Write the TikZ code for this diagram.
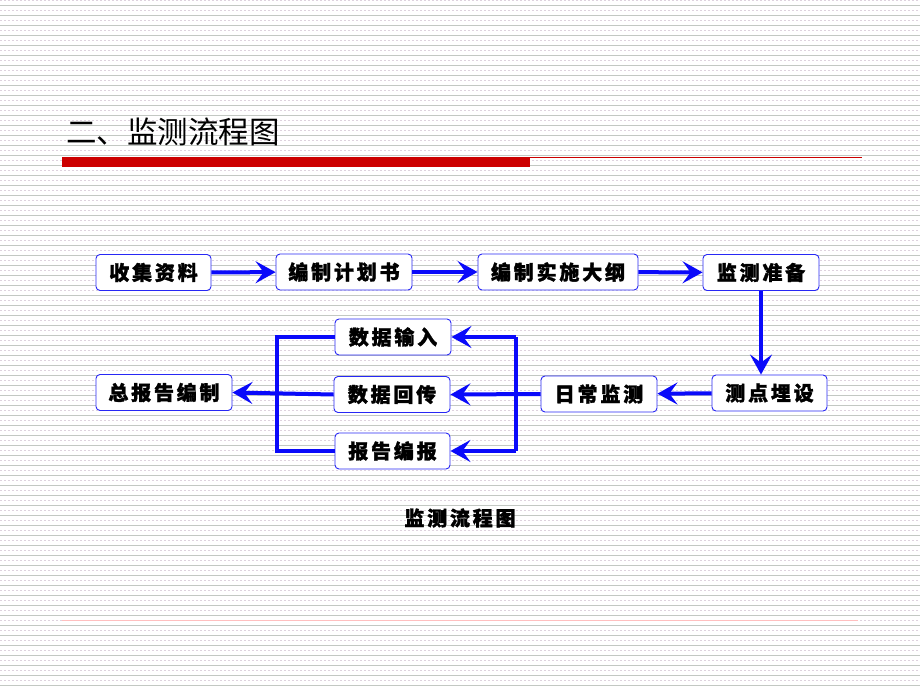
\documentclass[tikz,border=0pt]{standalone}
\usepackage{fontspec}
\usetikzlibrary{arrows.meta,calc}
\newfontfamily\cjk{Noto Sans CJK SC}
\newfontfamily\cjkb[LetterSpace=14,FakeBold=1.5]{Noto Sans CJK SC}
\definecolor{boxblue}{RGB}{40,40,245}
\definecolor{arrblue}{RGB}{10,10,250}
\definecolor{barred}{RGB}{204,0,0}
\definecolor{stripe}{RGB}{195,200,195}
\definecolor{stripedot}{RGB}{222,210,222}
\tikzset{
  stepbox/.style={draw=boxblue, line width=0.9pt, rounded corners=4pt, fill=white,
    minimum height=36pt, inner sep=2pt, font=\cjkb\bfseries\fontsize{20}{22}\selectfont},
  conn/.style={draw=arrblue, line width=4pt, -{Stealth[length=20pt,width=22pt,inset=8pt]}},
  wire/.style={draw=arrblue, line width=4pt},
}
\begin{document}
\begin{tikzpicture}[x=1pt,y=-1pt]
\useasboundingbox (0,0) rectangle (920,690);
\fill[white] (0,0) rectangle (920,690);
% background stripes
\foreach \k in {0,...,68}{
  \draw[stripe, line width=0.9pt] (0,10*\k+5) -- (920,10*\k+5);
  \draw[stripedot, line width=0.9pt, dash pattern=on 2pt off 2pt] (0,10*\k) -- (920,10*\k);
}
% title
\node[anchor=west, font=\cjk\fontsize{30.5}{33}\selectfont, inner sep=0pt] (title) at (66,132) {二、监测流程图};
\fill[barred] (62,157) rectangle (530,167);
\draw[barred, line width=1pt] (530,157.5) -- (862,157.5);
\draw[red!25, line width=1pt] (62,620) -- (858,620);
% nodes
\node[stepbox, minimum width=115pt] (s1) at (153.5,272.5) {收集资料};
\node[stepbox, minimum width=136pt] (s2) at (344,272) {编制计划书};
\node[stepbox, minimum width=160pt] (s3) at (558,272) {编制实施大纲};
\node[stepbox, minimum width=116pt] (s4) at (761,272.5) {监测准备};
\node[stepbox, minimum width=115pt] (s5) at (769.5,393) {测点埋设};
\node[stepbox, minimum width=116pt] (s6) at (599,394) {日常监测};
\node[stepbox, minimum width=116pt] (d1) at (393,337) {数据输入};
\node[stepbox, minimum width=116pt] (d2) at (392,394.5) {数据回传};
\node[stepbox, minimum width=115pt] (d3) at (392.5,451) {报告编报};
\node[stepbox, minimum width=136pt] (z) at (164,392.5) {总报告编制};
\node[font=\cjkb\bfseries\fontsize{20}{22}\selectfont, inner sep=0pt] (cap) at (460,518) {监测流程图};
% helper coordinates
\coordinate (rx) at (516,0);
\coordinate (lx) at (277,0);
% connectors
\draw[conn] (s1) -- (s2);
\draw[conn] (s2) -- (s3);
\draw[conn] (s3) -- (s4);
\draw[conn] (s4.south) -- (s4.south |- s5.north);
\draw[conn] (s5) -- (s6);
\draw[conn] (s6.west) -- (d2.east);
\draw[wire] (d1.east -| rx) -- (d3.east -| rx);
\draw[conn] (d1.east -| rx) -- (d1.east);
\draw[conn] (d3.east -| rx) -- (d3.east);
\draw[wire] (d1.west) -- (d1.west -| lx) -- (d3.west -| lx) -- (d3.west);
\draw[conn] (d2.west) -- (z.east);
\end{tikzpicture}
\end{document}
